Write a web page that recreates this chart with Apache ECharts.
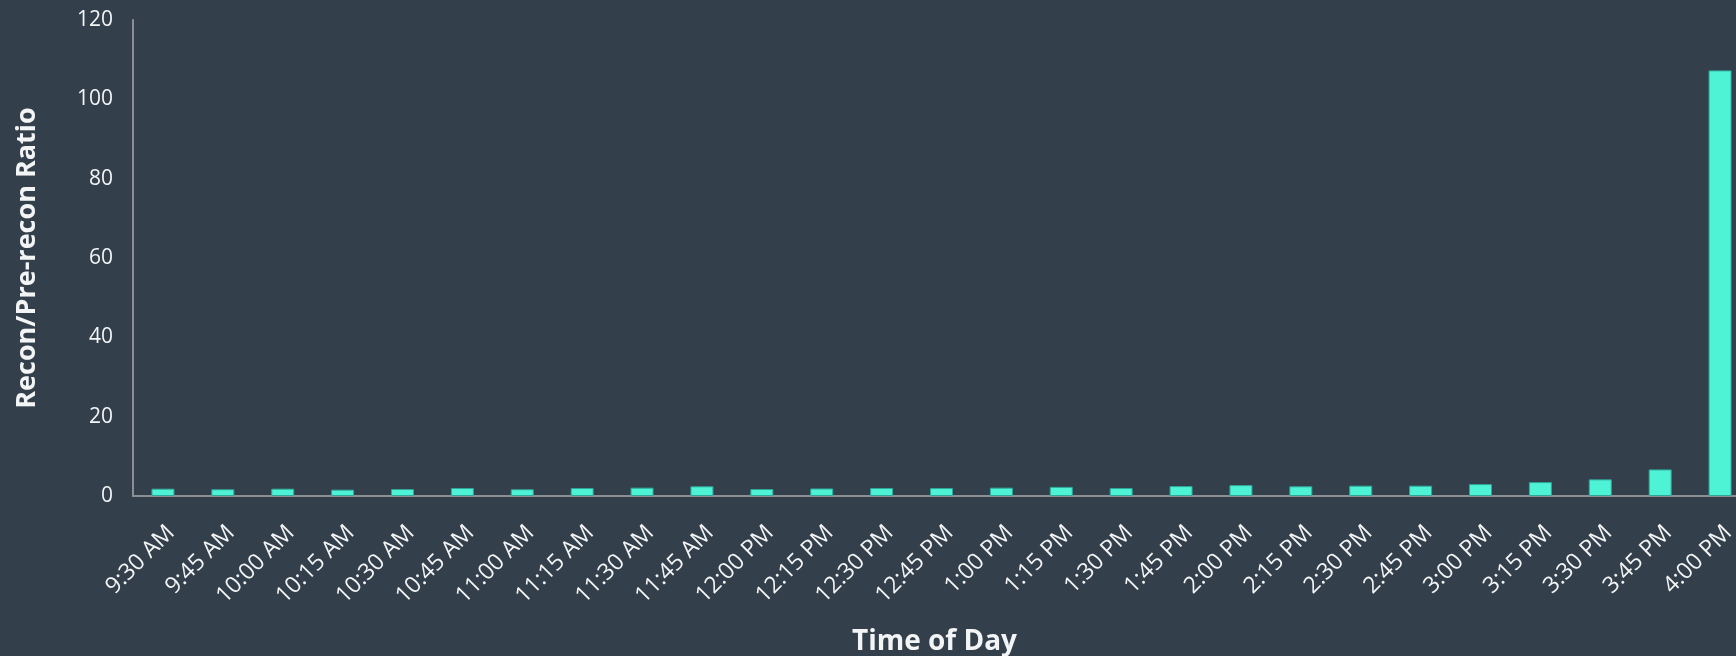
<!DOCTYPE html>
<html>
<head>
<meta charset="utf-8">
<script src="https://cdn.jsdelivr.net/npm/echarts@6/dist/echarts.min.js"></script>
<style>
  html, body { margin: 0; padding: 0; background: #333f4a; }
  #chart { width: 1736px; height: 656px; }
</style>
</head>
<body>
<div id="chart"></div>
<script>
// time slots on the x axis
const timeLabels = [
  '9:30 AM', '9:45 AM', '10:00 AM', '10:15 AM', '10:30 AM', '10:45 AM',
  '11:00 AM', '11:15 AM', '11:30 AM', '11:45 AM', '12:00 PM', '12:15 PM',
  '12:30 PM', '12:45 PM', '1:00 PM', '1:15 PM', '1:30 PM', '1:45 PM',
  '2:00 PM', '2:15 PM', '2:30 PM', '2:45 PM', '3:00 PM', '3:15 PM',
  '3:30 PM', '3:45 PM', '4:00 PM'
];

// recon / pre-recon ratio per slot
const ratioValues = [
  1.85, 1.7, 1.85, 1.6, 1.75, 2.0,
  1.7, 2.0, 2.1, 2.45, 1.75, 1.9,
  2.0, 2.0, 2.1, 2.3, 2.0, 2.5,
  2.75, 2.45, 2.6, 2.6, 3.0, 3.5,
  4.2, 6.7, 107.3
];

const yTicks = { min: 0, max: 120, interval: 20 };

const chart = echarts.init(document.getElementById('chart'));

const textColor = '#f2f4f5';
const font = '"Open Sans", Lato, sans-serif';

chart.setOption({
  backgroundColor: '#333f4a',
  animation: false,
  grid: {
    left: 133, top: 20, width: 1617, bottom: 160,
    containLabel: false,
    outerBoundsMode: 'none'
  },
  xAxis: {
    type: 'category',
    data: timeLabels,
    name: 'Time of Day',
    nameLocation: 'middle',
    nameGap: 132,
    nameTextStyle: {
      color: textColor, fontSize: 28, fontWeight: 'bold', fontFamily: font,
      padding: [0, 14, 0, 0]
    },
    axisLine: { lineStyle: { color: '#8a8f94', width: 2 } },
    axisTick: { show: false },
    axisLabel: {
      rotate: 45,
      interval: 0,
      margin: 25,
      align: 'right',
      verticalAlign: 'top',
      color: textColor,
      fontSize: 23,
      fontFamily: font
    }
  },
  yAxis: {
    type: 'value',
    min: yTicks.min,
    max: yTicks.max,
    interval: yTicks.interval,
    name: 'Recon/Pre-recon Ratio',
    nameLocation: 'middle',
    nameGap: 92,
    nameTextStyle: { color: textColor, fontSize: 27, fontWeight: 'bold', fontFamily: font },
    axisLine: { show: true, lineStyle: { color: '#8a8f94', width: 2 } },
    axisTick: { show: false },
    splitLine: { show: false },
    axisLabel: { color: textColor, fontSize: 21, margin: 20, fontFamily: font }
  },
  series: [
    {
      name: 'Ratio',
      type: 'bar',
      data: ratioValues,
      barWidth: 23,
      itemStyle: {
        color: '#4ef3d5',
        borderColor: '#2fa89a',
        borderWidth: 1
      }
    }
  ]
});
</script>
</body>
</html>
